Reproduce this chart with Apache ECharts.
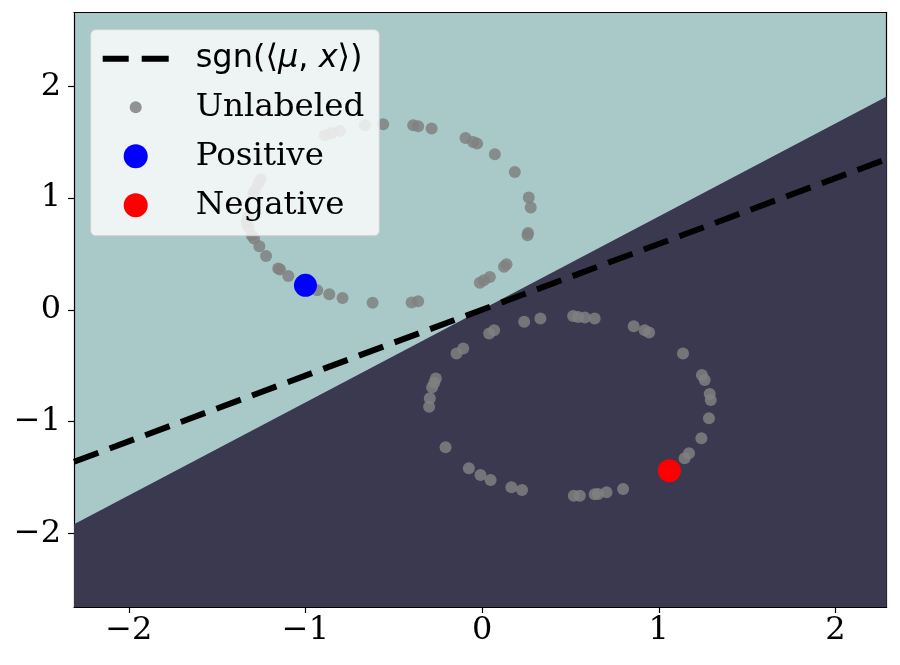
<!DOCTYPE html>
<html>
<head>
<meta charset="utf-8">
<script src="https://cdn.jsdelivr.net/npm/echarts@6/dist/echarts.min.js"></script>
<style>
  html, body { margin: 0; padding: 0; background: #fff; }
  #chart { width: 900px; height: 665px; }
</style>
</head>
<body>
<div id="chart"></div>
<script>
// unlabeled points (both rings)
const unlabeledX = [
  -0.560, -0.390, -0.362, -0.286, -0.094, -0.051, -0.028, 0.072, 0.185, 0.264, 0.275, 0.260, 0.257,
  0.138, 0.124, 0.044, 0.010, -0.013, -0.362, -0.399, -0.620, -0.790, -0.865, -0.933, -1.097, -1.144,
  -1.154, -1.223, -1.261, -1.291, -1.304, -1.324, -1.333, -1.324, -1.295, -1.286, -1.267, -1.253,
  -0.890, -0.852, -0.805, -0.663,
  0.068, 0.040, 0.238, 0.330, 0.515, 0.543, 0.581, 0.637, 0.858, 0.920, 0.945, 1.137, 1.244, 1.260,
  1.288, 1.294, 1.284, 1.241, 1.171, 1.146, 0.798, 0.704, 0.656, 0.637, 0.553, 0.519, 0.226, 0.166,
  0.048, -0.009, -0.075, -0.207, -0.300, -0.296, -0.283, -0.271, -0.262, -0.145, -0.107
];
const unlabeledY = [
  1.661, 1.652, 1.643, 1.623, 1.538, 1.503, 1.488, 1.393, 1.234, 1.005, 0.916, 0.689, 0.668,
  0.409, 0.385, 0.295, 0.266, 0.242, 0.078, 0.066, 0.063, 0.107, 0.140, 0.176, 0.304, 0.361,
  0.370, 0.483, 0.570, 0.639, 0.668, 0.742, 0.787, 0.832, 1.041, 1.071, 1.131, 1.169,
  1.563, 1.583, 1.601, 1.652,
  -0.182, -0.211, -0.107, -0.077, -0.056, -0.063, -0.068, -0.077, -0.146, -0.182, -0.202, -0.390, -0.584, -0.629,
  -0.754, -0.808, -0.971, -1.150, -1.284, -1.329, -1.604, -1.633, -1.648, -1.651, -1.664, -1.664, -1.613, -1.589,
  -1.523, -1.479, -1.419, -1.231, -0.868, -0.792, -0.694, -0.653, -0.614, -0.390, -0.345
];
const positiveX = [-1.0];
const positiveY = [0.22];
const negativeX = [1.06];
const negativeY = [-1.44];

// decision boundary and the sgn(<mu,x>) line
const boundaryX = [-2.31, 2.29];
const boundaryY = [-1.92, 1.91];
const dashX = [-2.31, 2.29];
const dashY = [-1.36, 1.35];

const xTicks = [-2, -1, 0, 1, 2];
const yTicks = [-2, -1, 0, 1, 2];

const zip = (xs, ys) => xs.map((x, i) => [x, ys[i]]);
const fmt = v => (v < 0 ? '\u2212' + (-v) : String(v));

const chart = echarts.init(document.getElementById('chart'));

const frameAxis = {
  type: 'value',
  axisLine: { show: true, onZero: false, lineStyle: { color: '#000', width: 1.2 } },
  axisTick: { show: false },
  axisLabel: { show: false },
  splitLine: { show: false }
};

// legend icons: two dashes, a small dot
const dashIcon = 'path://M0,0 M66,24 M0,9 L26,9 L26,15 L0,15 Z M39,9 L66,9 L66,15 L39,15 Z';
const smallDot = 'path://M0,0 M24,24 M6,12 A6,6 0 1,1 18,12 A6,6 0 1,1 6,12 Z';

chart.setOption({
  animation: false,
  grid: {
    left: 74, right: 13.3, top: 12.7, bottom: 58,
    show: true, backgroundColor: '#a9c9c9', borderWidth: 0
  },
  xAxis: [
    {
      type: 'value', min: -2.31, max: 2.29, position: 'bottom',
      axisLine: { show: true, onZero: false, lineStyle: { color: '#000', width: 1.2 } },
      axisTick: { show: true, length: 6, customValues: xTicks, lineStyle: { color: '#000', width: 1.2 } },
      axisLabel: {
        customValues: xTicks, formatter: fmt, margin: 8,
        fontFamily: 'DejaVu Serif', fontSize: 32, color: '#000'
      },
      splitLine: { show: false }
    },
    Object.assign({ min: -2.31, max: 2.29, position: 'top' }, frameAxis)
  ],
  yAxis: [
    {
      type: 'value', min: -2.66, max: 2.66, position: 'left',
      axisLine: { show: true, onZero: false, lineStyle: { color: '#000', width: 1.2 } },
      axisTick: { show: true, length: 6, customValues: yTicks, lineStyle: { color: '#000', width: 1.2 } },
      axisLabel: {
        customValues: yTicks, formatter: fmt, margin: 13,
        fontFamily: 'DejaVu Serif', fontSize: 32, color: '#000'
      },
      splitLine: { show: false }
    },
    Object.assign({ min: -2.66, max: 2.66, position: 'right' }, frameAxis)
  ],
  legend: {
    orient: 'vertical',
    left: 90.7, top: 29.7,
    selectedMode: false,
    data: [
      { name: 'sgn', icon: dashIcon },
      { name: 'Unlabeled', icon: smallDot },
      { name: 'Positive', icon: 'circle' },
      { name: 'Negative', icon: 'circle' }
    ],
    itemWidth: 66, itemHeight: 24, itemGap: 16,
    padding: [13, 15, 14, 12],
    backgroundColor: 'rgba(255,255,255,0.8)',
    borderColor: '#d0d0d0', borderWidth: 1, borderRadius: 5,
    formatter: name => name === 'sgn' ? '{s|sgn(\u27e8}{i|\u03bc}{s|, }{i|x}{s|\u27e9)}' : name,
    textStyle: {
      fontFamily: 'DejaVu Serif', fontSize: 32.5, color: '#000', lineHeight: 32,
      padding: [0, 0, 0, 22],
      rich: {
        s: { fontFamily: 'DejaVu Sans', fontSize: 32, color: '#000' },
        i: { fontFamily: 'DejaVu Sans', fontSize: 32, fontStyle: 'italic', color: '#000' }
      }
    }
  },
  series: [
    {
      name: 'region', type: 'line', data: zip(boundaryX, boundaryY),
      symbol: 'none', silent: true, z: 1,
      lineStyle: { width: 0 },
      areaStyle: { color: '#3a3950', opacity: 1, origin: 'start' }
    },
    {
      name: 'sgnLine', type: 'line', data: zip(dashX, dashY),
      symbol: 'none', silent: true, z: 2,
      lineStyle: { color: '#000', width: 6, type: [26, 12], cap: 'butt' }
    },
    {
      // legend entry for the dashed line
      name: 'sgn', type: 'scatter', data: [],
      itemStyle: { color: '#000', opacity: 1 }
    },
    {
      name: 'Unlabeled', type: 'scatter', data: zip(unlabeledX, unlabeledY),
      symbolSize: 12, z: 3, silent: true,
      itemStyle: { color: '#808080', opacity: 0.85 }
    },
    {
      name: 'Positive', type: 'scatter', data: zip(positiveX, positiveY),
      symbolSize: 23, z: 4, silent: true,
      itemStyle: { color: '#0000ff', opacity: 1 }
    },
    {
      name: 'Negative', type: 'scatter', data: zip(negativeX, negativeY),
      symbolSize: 23, z: 4, silent: true,
      itemStyle: { color: '#ff0000', opacity: 1 }
    }
  ]
});
</script>
</body>
</html>
